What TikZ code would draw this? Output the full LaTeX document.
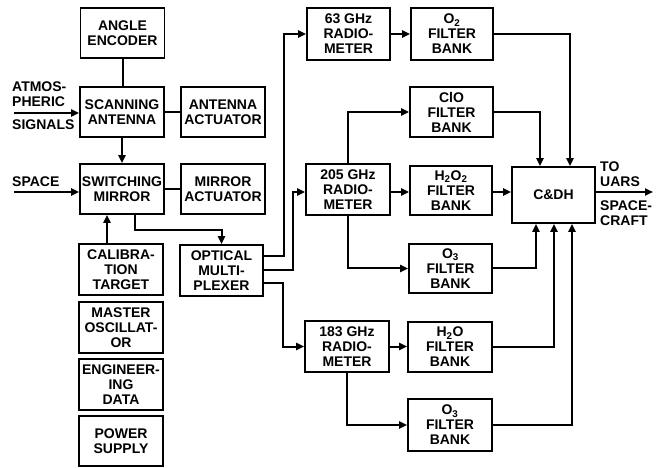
\documentclass[tikz,border=0pt]{standalone}
\usepackage{fontspec}
\setmainfont{Liberation Sans}
\usetikzlibrary{arrows.meta,calc}
\begin{document}
\begin{tikzpicture}[x=1pt,y=-1pt,
  txt/.style={font=\fontsize{14}{15}\selectfont\bfseries},
  box/.style={draw,line width=1.6pt,inner sep=0pt,minimum width=84pt,minimum height=50pt,align=center,txt},
  wire/.style={line width=2pt},
  arr/.style={wire,-{Triangle[length=8pt,width=7pt]}},
  lbl/.style={inner sep=0pt,align=left,txt}]
\useasboundingbox (0,0) rectangle (657,468);
% left column
\node[box] (enc) at (122.5,33) {ANGLE\\ENCODER};
\node[box] (scan) at (122,112) {SCANNING\\ANTENNA};
\node[box] (aact) at (223,112) {ANTENNA\\ACTUATOR};
\node[box] (sw) at (122,189) {SWITCHING\\MIRROR};
\node[box] (mact) at (223,189) {MIRROR\\ACTUATOR};
\node[box,minimum height=51pt] (cal) at (121,269.5) {CALIBRA-\\TION\\TARGET};
\node[box,minimum height=51pt] (osc) at (121,327.5) {MASTER\\OSCILLAT-\\OR};
\node[box,minimum height=51pt] (eng) at (121,384.5) {ENGINEER-\\ING\\DATA};
\node[box,minimum height=50pt] (pow) at (121,441) {POWER\\SUPPLY};
\node[box,minimum width=83pt,minimum height=51pt] (opt) at (221.5,270.5) {OPTICAL\\MULTI-\\PLEXER};
% radiometers and filter banks
\node[box,minimum width=83pt,minimum height=52pt] (r63) at (348.5,34) {63 GHz\\RADIO-\\METER};
\node[box,minimum width=82pt,minimum height=52pt] (o2) at (452,34) {O\textsubscript{2}\\FILTER\\BANK};
\node[box,minimum width=83pt] (clo) at (451.5,112) {ClO\\FILTER\\BANK};
\node[box,minimum height=51pt] (r205) at (348,189.5) {205 GHz\\RADIO-\\METER};
\node[box,minimum width=82pt,minimum height=49pt] (h2o2) at (451,190.5) {H\textsubscript{2}O\textsubscript{2}\\FILTER\\BANK};
\node[box,minimum width=83pt,minimum height=56pt] (cdh) at (553.5,195) {C\&DH};
\node[box,minimum width=83pt,minimum height=49pt] (o3a) at (450.5,268.5) {O\textsubscript{3}\\FILTER\\BANK};
\node[box,minimum height=51pt] (r183) at (347,346.5) {183 GHz\\RADIO-\\METER};
\node[box,minimum height=50pt] (h2o) at (450,347) {H\textsubscript{2}O\\FILTER\\BANK};
\node[box,minimum height=52pt] (o3b) at (450,425) {O\textsubscript{3}\\FILTER\\BANK};
% outside labels
\node[lbl,anchor=south west] (atmA) at (12,107) {ATMOS-\\PHERIC};
\node[lbl,anchor=north west] (atmB) at (12,120) {SIGNALS};
\node[lbl,anchor=south west] (spc) at (12,187) {SPACE};
\node[lbl,anchor=south west] (toA) at (600,187) {TO\\UARS};
\node[lbl,anchor=north west] (toB) at (600,201) {SPACE-\\CRAFT};
\coordinate (atm) at (14,113);
\coordinate (spin) at (14,192);
\coordinate (out) at (653,192);
% left connectors
\draw[wire] (enc.south) -- (enc.south |- scan.north);
\draw[wire] (scan.east) -- (aact.west);
\draw[arr] (scan.south) -- (sw.north);
\draw[wire] (sw.east) -- (mact.west);
\draw[arr] (atm) -- (atm -| scan.west);
\draw[arr] (spin) -- (spin -| sw.west);
\draw[arr] ($(cal.north)+(-14,0)$) coordinate (cu) -- (cu |- sw.south);
\draw[arr] ($(sw.south)+(13,0)$) -- ++(0,15) -| (opt.north);
% multiplexer outputs
\draw[arr] ($(opt.east)+(0,-14.5)$) -- ++(20,0) |- (r63.west);
\draw[arr] (opt.east) -- ++(29,0) |- ($(r205.west)+(0,2.5)$);
\draw[arr] ($(opt.east)+(0,12.5)$) -- ++(19,0) |- (r183.west);
% radiometer chains
\draw[arr] (r63.east) -- (r63.east -| o2.west);
\draw[arr] (o2.east) -| ($(cdh.north)+(16.5,0)$);
\draw[arr] (r205.north) |- (clo.west);
\draw[arr] (clo.east) -| ($(cdh.north)+(-13.5,0)$);
\draw[arr] ($(r205.east)+(0,2.5)$) coordinate (rh) -- (rh -| h2o2.west);
\draw[arr] ($(h2o2.east)+(0,1.5)$) coordinate (hc) -- (hc -| cdh.west);
\draw[arr] (r205.south) |- (o3a.west);
\draw[arr] (o3a.east) -| ($(cdh.south)+(-17.5,0)$);
\draw[arr] (r183.east) -- (r183.east -| h2o.west);
\draw[arr] (h2o.east) -| ($(cdh.south)+(0.5,0)$);
\draw[arr] (r183.south) |- (o3b.west);
\draw[arr] (o3b.east) -| ($(cdh.south)+(18.5,0)$);
\draw[arr] (out -| cdh.east) -- (out);
\end{tikzpicture}
\end{document}
